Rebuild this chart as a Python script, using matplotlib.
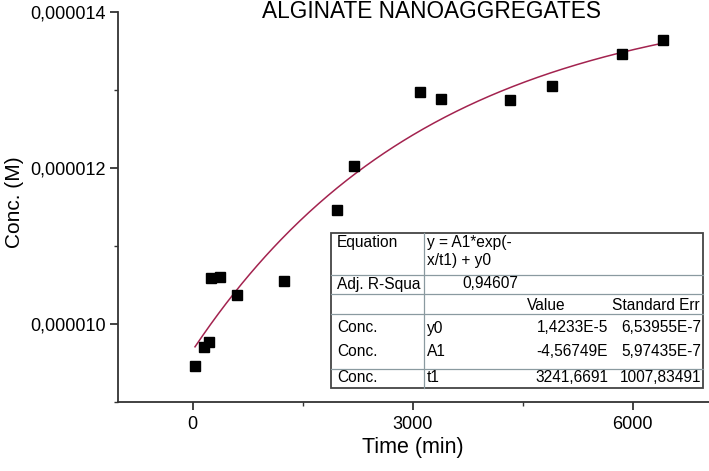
import numpy as np
import matplotlib
matplotlib.use("Agg")
import matplotlib.pyplot as plt
from matplotlib.lines import Line2D
from matplotlib.ticker import FuncFormatter, MultipleLocator

plt.rcParams['font.family'] = ['Liberation Sans', 'DejaVu Sans']

# measured points
time_min = [27, 150, 219, 246, 369, 601, 1244, 1968, 2200, 3102, 3389,
            4332, 4893, 5849, 6410]
conc_M = [9.46e-6, 9.70e-6, 9.77e-6, 1.059e-5, 1.060e-5, 1.037e-5,
          1.055e-5, 1.146e-5, 1.2026e-5, 1.2974e-5, 1.2885e-5,
          1.2872e-5, 1.3051e-5, 1.3462e-5, 1.3641e-5]

# fit parameters (from the table)
y0 = 1.4233e-5
A1 = -4.56749e-6
t1 = 3241.6691

table_rows = [
    ["Equation", "y = A1*exp(-\nx/t1) + y0", "", ""],
    ["Adj. R-Squa", "0,94607", "", ""],
    ["", "", "Value", "Standard Err"],
    ["Conc.", "y0", "1,4233E-5", "6,53955E-7"],
    ["Conc.", "A1", "-4,56749E", "5,97435E-7"],
    ["Conc.", "t1", "3241,6691", "1007,83491"],
]

W, H = 709, 471
fig = plt.figure(figsize=(W / 100, H / 100), dpi=100)
ax = fig.add_axes([118 / W, (H - 402) / H, (W - 118) / W, (402 - 12) / H])

xfit = np.linspace(30, 6410, 300)
ax.plot(xfit, A1 * np.exp(-xfit / t1) + y0, color='#a3234f', lw=1.1, zorder=2)
ax.plot(time_min, conc_M, 's', color='black', ms=7.3, zorder=3)

ax.set_xlim(-1020, 7040)
ax.set_ylim(9e-6, 1.4e-5)
ax.xaxis.set_major_locator(MultipleLocator(3000))
ax.xaxis.set_minor_locator(MultipleLocator(1500))
ax.yaxis.set_major_locator(MultipleLocator(2e-6))
ax.yaxis.set_minor_locator(MultipleLocator(1e-6))
ax.yaxis.set_major_formatter(FuncFormatter(lambda v, p: f"{v:.6f}".replace('.', ',')))

for s in ['top', 'right']:
    ax.spines[s].set_visible(False)
for s in ['left', 'bottom']:
    ax.spines[s].set_color('#333333')
    ax.spines[s].set_linewidth(1.3)
ax.tick_params(which='major', length=6, width=1.3, color='#333333',
               labelsize=13, pad=3)
ax.tick_params(which='minor', length=3, width=1.0, color='#333333')
ax.tick_params(axis='x', pad=4)

fig.text(15 / W, 1 - 202 / H, "Conc. (M)", rotation=90, ha='center',
         va='center', fontsize=15)
fig.text(413 / W, 1 - 448 / H, "Time (min)", ha='center', va='center',
         fontsize=15.5)
fig.text(431 / W, 1 - 11 / H, "ALGINATE NANOAGGREGATES", ha='center',
         va='center', fontsize=16.3)

# results table drawn in figure pixels
def fx(px):
    return px / W


def fy(py):
    return 1 - py / H


tl, tr, tt, tb = 331, 703, 233, 388
fig.patches.append(plt.Rectangle((fx(tl), fy(tb)), fx(tr) - fx(tl),
                                 fy(tt) - fy(tb), transform=fig.transFigure,
                                 facecolor='white', edgecolor='#444444',
                                 lw=1.3, zorder=5))
for yl in [275, 294, 314, 369]:
    fig.add_artist(Line2D([fx(tl), fx(tr)], [fy(yl), fy(yl)],
                          color='#8a9aa0', lw=0.9, zorder=6))
fig.add_artist(Line2D([fx(424), fx(424)], [fy(tt), fy(tb)],
                      color='#8a9aa0', lw=0.9, zorder=6))

row_y = [243, 284, 305, 328, 352, 378]
fs = 11.2
for r, row in enumerate(table_rows):
    yy = fy(row_y[r])
    fig.text(fx(337), yy, row[0], ha='left', va='center', fontsize=fs, zorder=7)
    if r == 0:
        fig.text(fx(427), fy(235), row[1], ha='left', va='top', fontsize=fs,
                 linespacing=1.25, zorder=7)
    elif r == 1:
        fig.text(fx(518), yy, row[1], ha='right', va='center', fontsize=fs, zorder=7)
    else:
        fig.text(fx(427), yy, row[1], ha='left', va='center', fontsize=fs, zorder=7)
    if r == 2:
        fig.text(fx(527), yy, row[2], ha='left', va='center', fontsize=fs, zorder=7)
        fig.text(fx(612), yy, row[3], ha='left', va='center', fontsize=fs, zorder=7)
    else:
        fig.text(fx(608), yy, row[2], ha='right', va='center', fontsize=fs, zorder=7)
        fig.text(fx(701), yy, row[3], ha='right', va='center', fontsize=fs, zorder=7)

fig.savefig("out.png", dpi=100)
